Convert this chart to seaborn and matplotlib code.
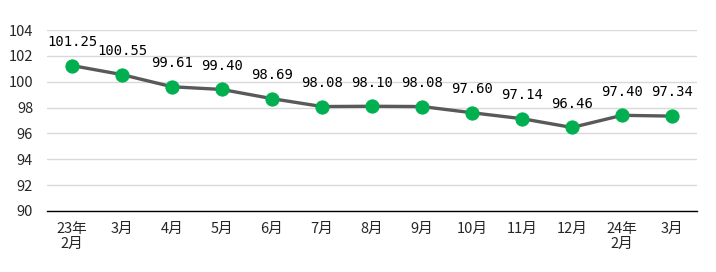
import matplotlib
matplotlib.use("Agg")
import matplotlib.pyplot as plt
import seaborn as sns
import pandas as pd

categories = ["23年\n2月", "3月", "4月", "5月", "6月", "7月", "8月", "9月", "10月", "11月", "12月", "24年\n2月", "3月"]
values = [101.25, 100.55, 99.61, 99.40, 98.69, 98.08, 98.10, 98.08, 97.60, 97.14, 96.46, 97.40, 97.34]
y_ticks = [90, 92, 94, 96, 98, 100, 102, 104]

sns.set_theme(style="white")
plt.rcParams['font.family'] = ['Noto Sans CJK SC', 'DejaVu Sans']

df = pd.DataFrame({"idx": list(range(len(categories))), "value": values})

fig = plt.figure(figsize=(7.16, 2.72), dpi=100)
ax = fig.add_axes([0.0656, 0.2243, 0.9079, 0.6654])

sns.lineplot(data=df, x="idx", y="value", ax=ax, color="#595959", linewidth=2.4,
             marker="o", markersize=9.5, markerfacecolor="#00B050",
             markeredgecolor="#00B050", zorder=3)

for i, v in enumerate(values):
    ax.annotate(f"{v:.2f}", (i, v), xytext=(0, 12), textcoords="offset points",
                ha="center", va="bottom", fontsize=10, family=["DejaVu Sans Mono"], color="#000000")

ax.set_xlim(-0.5, len(categories) - 0.5)
ax.set_ylim(90, 104)
ax.set_yticks(y_ticks)
ax.set_yticklabels([str(t) for t in y_ticks], fontsize=10.5)
ax.set_xticks(range(len(categories)))
ax.set_xticklabels(categories, fontsize=10.5, linespacing=1.05)
ax.tick_params(axis="y", length=0, pad=10)
ax.tick_params(axis="x", length=0, pad=8)
ax.grid(axis="y", color="#D9D9D9", linewidth=1)
ax.set_axisbelow(True)
for s in ["top", "right", "left"]:
    ax.spines[s].set_visible(False)
ax.spines["bottom"].set_color("#000000")
ax.spines["bottom"].set_linewidth(1)
ax.set_xlabel("")
ax.set_ylabel("")

fig.savefig("out.png", dpi=100)
